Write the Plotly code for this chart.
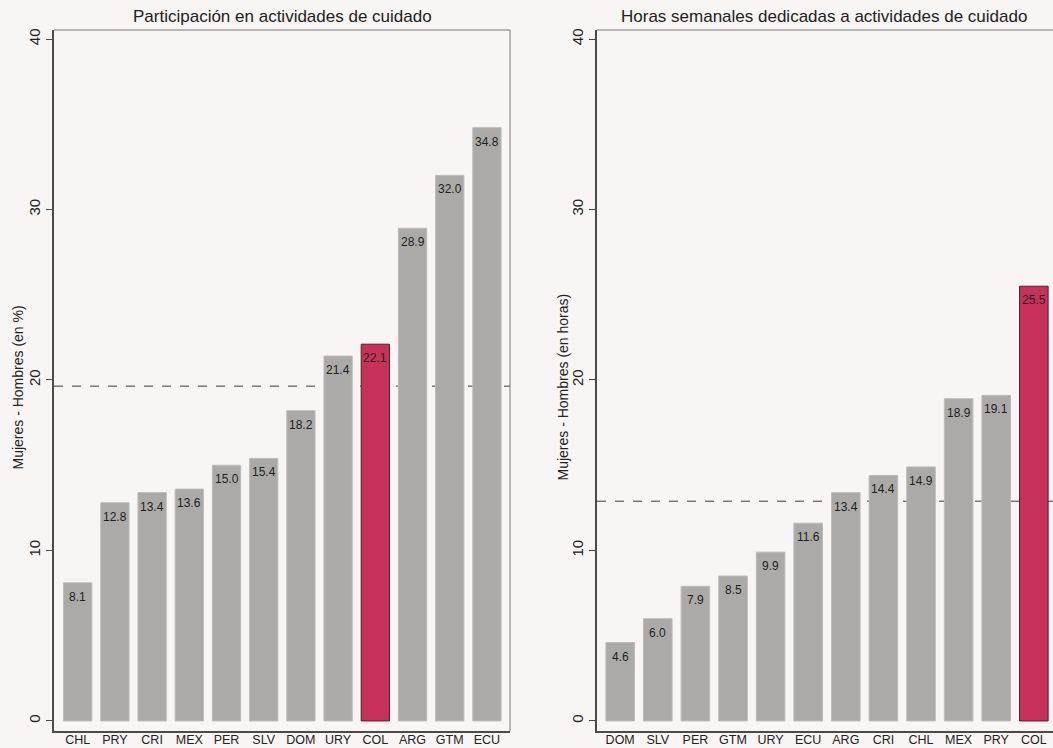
import plotly.graph_objects as go

# ---- data ----
left_title = "Participación en actividades de cuidado"
left_categories = ["CHL", "PRY", "CRI", "MEX", "PER", "SLV", "DOM", "URY", "COL", "ARG", "GTM", "ECU"]
left_values = [8.1, 12.8, 13.4, 13.6, 15.0, 15.4, 18.2, 21.4, 22.1, 28.9, 32.0, 34.8]
left_mean = 19.64
left_ytitle = "Mujeres - Hombres (en %)"

right_title = "Horas semanales dedicadas a actividades de cuidado"
right_categories = ["DOM", "SLV", "PER", "GTM", "URY", "ECU", "ARG", "CRI", "CHL", "MEX", "PRY", "COL"]
right_values = [4.6, 6.0, 7.9, 8.5, 9.9, 11.6, 13.4, 14.4, 14.9, 18.9, 19.1, 25.5]
right_mean = 12.89
right_ytitle = "Mujeres - Hombres (en horas)"

y_ticks = [0, 10, 20, 30, 40]
highlight = "COL"

# ---- style ----
W, H = 1053, 748
BG = "#f8f5f4"
GRAY = "#abaaa9"
GRAY_LINE = "#bcbbba"
RED = "#c8325a"
RED_LINE = "#5a1a2e"
FONT = "Liberation Sans, Arial, sans-serif"

fig = go.Figure()


def add_panel(cats, vals, xa, ya):
    colors = [RED if c == highlight else GRAY for c in cats]
    lcolors = [RED_LINE if c == highlight else GRAY_LINE for c in cats]
    fig.add_trace(go.Bar(
        x=cats, y=vals, xaxis=xa, yaxis=ya,
        marker=dict(color=colors, line=dict(color=lcolors, width=1)),
        width=0.76, showlegend=False, hoverinfo="x+y",
    ))
    for c, v in zip(cats, vals):
        fig.add_annotation(
            x=c, y=v, xref=xa, yref=ya, text=f"{v:.1f}", showarrow=False,
            yshift=-14, yanchor="middle", xanchor="center",
            font=dict(size=12, color="#1e1e1e", family=FONT),
        )


add_panel(left_categories, left_values, "x", "y")
add_panel(right_categories, right_values, "x2", "y2")

mt = 30
mb = H - 731
plot_h = H - mt - mb

axis_common = dict(
    showgrid=False, zeroline=False, showline=True, linecolor="#4a4a4a", linewidth=2,
)
y_common = dict(
    axis_common, range=[-0.59, 40.53], tickvals=y_ticks, ticks="outside", ticklen=6,
    tickcolor="#4a4a4a", tickwidth=1, tickangle=-90,
    tickfont=dict(size=15, color="#222", family=FONT),
)
x_common = dict(
    axis_common, type="category", ticks="", ticklabelstandoff=-4,
    tickfont=dict(size=12.5, color="#222", family=FONT),
)

fig.update_layout(
    width=W, height=H,
    margin=dict(l=0, r=0, t=mt, b=mb, autoexpand=False),
    paper_bgcolor=BG, plot_bgcolor=BG,
    font=dict(family=FONT, color="#222"),
    xaxis=dict(x_common, domain=[54 / W, 510 / W], range=[-0.637, 11.62], anchor="y"),
    yaxis=dict(y_common, anchor="x"),
    xaxis2=dict(x_common, domain=[597 / W, 1.0], range=[-0.617, 11.51], anchor="y2"),
    yaxis2=dict(y_common, anchor="x2"),
)

# mean dashed lines (behind bars)
for xa, ya, m in [("x", "y", left_mean), ("x2", "y2", right_mean)]:
    fig.add_shape(type="line", xref=f"{xa} domain", yref=ya, x0=0, x1=1, y0=m, y1=m,
                  layer="below", line=dict(color="#3a3a3a", width=1, dash="dash"))

# thin frame lines (top, and right for left panel)
for xa, ya in [("x", "y"), ("x2", "y2")]:
    fig.add_shape(type="line", xref=f"{xa} domain", yref=f"{ya} domain", x0=0, x1=1, y0=1, y1=1,
                  line=dict(color="#777", width=1))
fig.add_shape(type="line", xref="x domain", yref="y domain", x0=1, x1=1, y0=0, y1=1,
              line=dict(color="#777", width=1))

# panel titles
for xa, t in [("x", left_title), ("x2", right_title)]:
    fig.add_annotation(text=t, xref=f"{xa} domain", yref="paper", x=0.5 if xa == "x" else 0.498,
                       y=1 + 13 / plot_h,
                       showarrow=False, xanchor="center", yanchor="middle",
                       font=dict(size=17, color="#222", family=FONT))

# y-axis titles
for px, t in [(18, left_ytitle), (563, right_ytitle)]:
    fig.add_annotation(text=t, xref="paper", yref="paper", x=px / W, y=0.49, textangle=-90,
                       showarrow=False, xanchor="center", yanchor="middle",
                       font=dict(size=14, color="#222", family=FONT))

fig.write_html(
    "out.html",
    config={"displayModeBar": False},
    post_script="document.body.style.margin='0';document.body.style.overflow='hidden';"
                "document.body.style.background='" + BG + "';",
)
